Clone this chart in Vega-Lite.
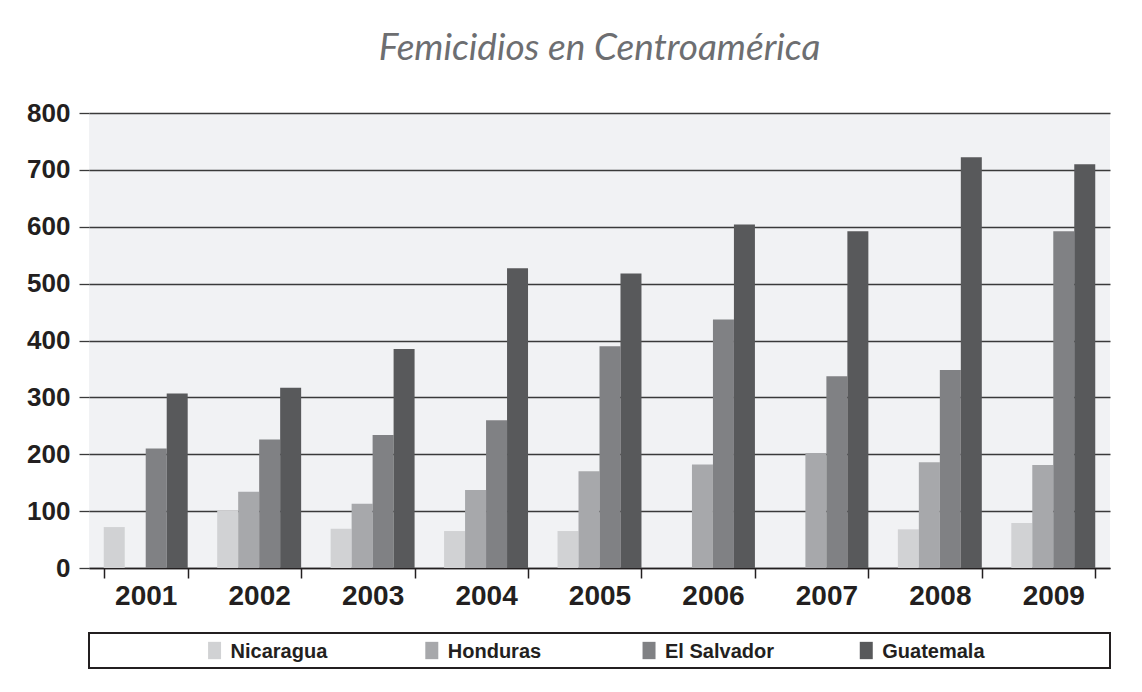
{
  "$schema": "https://vega.github.io/schema/vega-lite/v6.json",
  "background": "white",
  "padding": {"left": 26, "top": 30, "right": 10, "bottom": 10},
  "bounds": "flush",
  "spacing": 65,
  "config": {
    "font": "Liberation Sans",
    "view": {"stroke": null}
  },
  "vconcat": [
    {
      "width": 1021,
      "height": 455,
      "title": {
        "text": "Femicidios en Centroamérica",
        "font": "Lato",
        "fontSize": 37,
        "fontStyle": "italic",
        "fontWeight": "normal",
        "color": "#6d6e71",
        "anchor": "middle",
        "offset": 32
      },
      "view": {"fill": "#f1f2f4", "stroke": null},
      "data": {
        "values": [
          {"year": "2001", "country": "Nicaragua", "value": 72},
          {"year": "2001", "country": "El Salvador", "value": 210},
          {"year": "2001", "country": "Guatemala", "value": 307},
          {"year": "2002", "country": "Nicaragua", "value": 101},
          {"year": "2002", "country": "Honduras", "value": 134},
          {"year": "2002", "country": "El Salvador", "value": 226},
          {"year": "2002", "country": "Guatemala", "value": 317},
          {"year": "2003", "country": "Nicaragua", "value": 69},
          {"year": "2003", "country": "Honduras", "value": 113},
          {"year": "2003", "country": "El Salvador", "value": 234},
          {"year": "2003", "country": "Guatemala", "value": 385},
          {"year": "2004", "country": "Nicaragua", "value": 65},
          {"year": "2004", "country": "Honduras", "value": 137},
          {"year": "2004", "country": "El Salvador", "value": 260},
          {"year": "2004", "country": "Guatemala", "value": 527},
          {"year": "2005", "country": "Nicaragua", "value": 65},
          {"year": "2005", "country": "Honduras", "value": 170},
          {"year": "2005", "country": "El Salvador", "value": 390},
          {"year": "2005", "country": "Guatemala", "value": 518},
          {"year": "2006", "country": "Honduras", "value": 182},
          {"year": "2006", "country": "El Salvador", "value": 437},
          {"year": "2006", "country": "Guatemala", "value": 604},
          {"year": "2007", "country": "Honduras", "value": 202},
          {"year": "2007", "country": "El Salvador", "value": 337},
          {"year": "2007", "country": "Guatemala", "value": 592},
          {"year": "2008", "country": "Nicaragua", "value": 68},
          {"year": "2008", "country": "Honduras", "value": 186},
          {"year": "2008", "country": "El Salvador", "value": 348},
          {"year": "2008", "country": "Guatemala", "value": 722},
          {"year": "2009", "country": "Nicaragua", "value": 79},
          {"year": "2009", "country": "Honduras", "value": 181},
          {"year": "2009", "country": "El Salvador", "value": 592},
          {"year": "2009", "country": "Guatemala", "value": 710}
        ]
      },
      "mark": {"type": "bar"},
      "encoding": {
        "x": {
          "field": "year",
          "type": "nominal",
          "scale": {"paddingInner": 0.26, "paddingOuter": 0.13},
          "axis": {
            "title": null,
            "labelAngle": 0,
            "labelFont": "Liberation Sans",
            "labelFontSize": 28,
            "labelFontWeight": "bold",
            "labelColor": "#231f20",
            "labelPadding": 4,
            "tickBand": "extent",
            "tickSize": 10,
            "tickColor": "#231f20",
            "tickWidth": 1.5,
            "domainColor": "#231f20",
            "domainWidth": 1.5,
            "grid": false
          }
        },
        "xOffset": {
          "field": "country",
          "type": "nominal",
          "scale": {"domain": ["Nicaragua", "Honduras", "El Salvador", "Guatemala"], "paddingInner": 0, "paddingOuter": 0}
        },
        "y": {
          "field": "value",
          "type": "quantitative",
          "scale": {"domain": [0, 800], "nice": false},
          "axis": {
            "title": null,
            "values": [0, 100, 200, 300, 400, 500, 600, 700, 800],
            "labelFont": "Liberation Sans",
            "labelFontSize": 26,
            "labelFontWeight": "bold",
            "labelColor": "#231f20",
            "labelPadding": 9,
            "tickSize": 10,
            "tickColor": "#3a3a3a",
            "tickWidth": 1.3,
            "domain": false,
            "grid": true,
            "gridColor": "#3a3a3a",
            "gridWidth": 1.3
          }
        },
        "color": {
          "field": "country",
          "type": "nominal",
          "scale": {
            "domain": ["Nicaragua", "Honduras", "El Salvador", "Guatemala"],
            "range": ["#d1d2d4", "#a7a8ab", "#808184", "#58595b"]
          },
          "legend": null
        }
      }
    },
    {
      "width": 1021,
      "height": 35,
      "view": {"fill": "white", "stroke": "#231f20", "strokeWidth": 2},
      "data": {
        "values": [
          {"country": "Nicaragua"},
          {"country": "Honduras"},
          {"country": "El Salvador"},
          {"country": "Guatemala"}
        ]
      },
      "encoding": {
        "x": {
          "field": "country",
          "type": "nominal",
          "sort": ["Nicaragua", "Honduras", "El Salvador", "Guatemala"],
          "scale": {"type": "point", "padding": 0.85, "align": 0.34},
          "axis": null
        }
      },
      "layer": [
        {
          "mark": {"type": "point", "shape": "M-0.75,-1H0.75V1H-0.75Z", "size": 300, "filled": true, "opacity": 1},
          "encoding": {
            "color": {
              "field": "country",
              "type": "nominal",
              "scale": {
                "domain": ["Nicaragua", "Honduras", "El Salvador", "Guatemala"],
                "range": ["#d1d2d4", "#a7a8ab", "#808184", "#58595b"]
              },
              "legend": null
            }
          }
        },
        {
          "mark": {"type": "text", "align": "left", "baseline": "middle", "dx": 16, "dy": 1, "fontSize": 20, "fontWeight": "bold", "font": "Liberation Sans", "color": "#231f20"},
          "encoding": {"text": {"field": "country", "type": "nominal"}}
        }
      ]
    }
  ]
}
